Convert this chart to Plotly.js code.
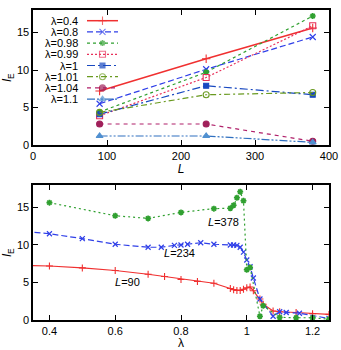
<!DOCTYPE html>
<html>
<head>
<meta charset="utf-8">
<script src="https://cdn.plot.ly/plotly-3.0.1.min.js"></script>
<style>html,body{margin:0;padding:0;background:#fff;}#chart{width:341px;height:350px;}</style>
</head>
<body>
<div id="chart"></div>
<script>
// ---------- Top panel data: l_E vs L ----------
const L_vals = [90, 234, 378];
const lambdaLabels = ['λ=0.4', 'λ=0.8', 'λ=0.98', 'λ=0.99', 'λ=1', 'λ=1.01', 'λ=1.04', 'λ=1.1'];
const lE_lam04  = [7.2, 11.5, 15.6];
const lE_lam08  = [5.5, 10.1, 14.4];
const lE_lam098 = [4.4, 9.7, 17.2];
const lE_lam099 = [3.9, 9.0, 15.9];
const lE_lam1   = [4.1, 7.9, 6.7];
const lE_lam101 = [4.35, 6.7, 7.0];
const lE_lam104 = [2.8, 2.8, 0.5];
const lE_lam11  = [1.2, 1.2, 0.35];

// ---------- Bottom panel data: l_E vs lambda ----------
const lam_L90 = [0.3, 0.4, 0.5, 0.6, 0.7, 0.75, 0.8, 0.85, 0.9, 0.95, 0.96, 0.97, 0.98, 0.99, 1.0, 1.01, 1.02, 1.04, 1.05, 1.08, 1.1, 1.15, 1.2, 1.25];
const lE_L90  = [7.3, 7.2, 6.95, 6.6, 6.1, 5.8, 5.4, 5.15, 4.9, 4.2, 4.05, 3.95, 3.95, 4.1, 4.3, 4.4, 3.9, 2.8, 2.1, 1.2, 1.1, 1.0, 0.85, 0.75];
const lam_L234 = [0.3, 0.4, 0.5, 0.6, 0.7, 0.74, 0.78, 0.8, 0.82, 0.86, 0.9, 0.95, 0.96, 0.97, 0.98, 0.99, 1.0, 1.01, 1.02, 1.04, 1.08, 1.1, 1.12, 1.16, 1.25];
const lE_L234  = [11.9, 11.5, 10.85, 10.1, 9.7, 9.7, 9.95, 10.0, 10.1, 10.3, 10.1, 10.0, 10.0, 9.95, 9.7, 9.05, 8.0, 7.1, 5.6, 2.8, 0.5, 1.1, 1.0, 0.9, 0.2];
const lam_L378 = [0.4, 0.6, 0.7, 0.8, 0.9, 0.95, 0.96, 0.97, 0.98, 0.99, 1.0, 1.01, 1.04, 1.05, 1.1, 1.15, 1.2, 1.25];
const lE_L378  = [15.65, 13.9, 13.55, 14.35, 14.85, 14.9, 15.3, 16.3, 17.1, 15.9, 6.7, 7.0, 0.5, 1.9, 0.35, 0.3, 0.3, 0.1];
const curveLabels = ['<i>L</i>=90', '<i>L</i>=234', '<i>L</i>=378'];
const curveLabelPos = {lam: [0.636, 0.796, 0.928], lE: [5.07, 8.96, 13.0]};

// ---------- styles ----------
const FONT = 'Liberation Sans, Arial, sans-serif';
const topSeries = [
  {y: lE_lam04,  color: '#f03030', dash: 'solid',            sym: 'cross-thin-open', size: 6, mcolor: '#f03030', lw: 1.5},
  {y: lE_lam08,  color: '#2f3fe8', dash: '6px,3px',          sym: 'x-thin-open',     size: 6, mcolor: '#2f3fe8', lw: 1.2},
  {y: lE_lam098, color: '#30a030', dash: '3px,3px',          sym: 'asterisk-open',   size: 5, mcolor: '#30a030', lw: 1.2},
  {y: lE_lam099, color: '#e8305a', dash: '2px,2px',          sym: 'square-open',     size: 6, mcolor: '#e8305a', lw: 1.2},
  {y: lE_lam1,   color: '#1848c0', dash: '8px,3px,2px,3px',  sym: 'square',          size: 5, mcolor: '#1848c0', lw: 1.2},
  {y: lE_lam101, color: '#6a9a20', dash: '6px,3px,2px,3px',  sym: 'circle-open',     size: 6, mcolor: '#6a9a20', lw: 1.2},
  {y: lE_lam104, color: '#b0206a', dash: '4px,4px',          sym: 'circle',          size: 6, mcolor: '#a0205a', lw: 1.2},
  {y: lE_lam11,  color: '#3070c0', dash: '8px,2px,2px,2px,2px,2px', sym: 'triangle-up', size: 6, mcolor: '#5090d0', lw: 1.2}
];

const traces = [];
topSeries.forEach(function (s) {
  const mk = {symbol: s.sym, size: s.size, color: s.mcolor, line: {color: s.mcolor, width: s.sym === 'asterisk-open' ? 1.6 : 1.1}};
  traces.push({x: L_vals, y: s.y, xaxis: 'x', yaxis: 'y', mode: 'lines+markers',
    line: {color: s.color, dash: s.dash, width: s.lw}, marker: mk, showlegend: false, hoverinfo: 'skip'});
});

// custom gnuplot-style key (text right, sample on the right) on an overlay axis in pixel units
const keyTextX = 47, keyX0 = 54, keyX1 = 85, keyY0 = 10.7, keyDy = 11.2;
topSeries.forEach(function (s, i) {
  const yy = keyY0 + keyDy * i;
  traces.push({x: [keyX0, (keyX0 + keyX1) / 2, keyX1], y: [yy, yy, yy], xaxis: 'x3', yaxis: 'y3',
    mode: 'lines+markers', line: {color: s.color, dash: s.dash, width: s.lw},
    marker: {symbol: s.sym, size: [0, s.size, 0], color: s.mcolor, line: {color: s.mcolor, width: s.sym === 'asterisk-open' ? 1.6 : 1.1}},
    showlegend: false, hoverinfo: 'skip'});
});

// bottom panel
traces.push({x: lam_L90, y: lE_L90, xaxis: 'x2', yaxis: 'y2', mode: 'lines+markers',
  line: {color: '#f03030', width: 1.2}, marker: {symbol: 'cross-thin-open', size: 5, line: {color: '#f03030', width: 1.1}},
  showlegend: false, hoverinfo: 'skip'});
traces.push({x: lam_L234, y: lE_L234, xaxis: 'x2', yaxis: 'y2', mode: 'lines+markers',
  line: {color: '#2f3fe8', width: 1.2, dash: '6px,3px'}, marker: {symbol: 'x-thin-open', size: 5, line: {color: '#2f3fe8', width: 1.2}},
  showlegend: false, hoverinfo: 'skip'});
traces.push({x: lam_L378, y: lE_L378, xaxis: 'x2', yaxis: 'y2', mode: 'lines+markers',
  line: {color: '#30a030', width: 1.2, dash: '2px,3px'}, marker: {symbol: 'asterisk-open', size: 5, line: {color: '#30a030', width: 1.6}},
  showlegend: false, hoverinfo: 'skip'});

const annotations = [];
lambdaLabels.forEach(function (t, i) {
  annotations.push({text: t, x: keyTextX, y: keyY0 + keyDy * i, xref: 'x3', yref: 'y3',
    xanchor: 'right', yanchor: 'middle', showarrow: false, font: {family: FONT, size: 11, color: '#000'}});
});
curveLabels.forEach(function (t, i) {
  annotations.push({text: t, x: curveLabelPos.lam[i], y: curveLabelPos.lE[i], xref: 'x2', yref: 'y2',
    xanchor: 'center', yanchor: 'middle', showarrow: false, font: {family: FONT, size: 11, color: '#000'}});
});

function ax(extra) {
  return Object.assign({
    showline: true, linecolor: '#000', linewidth: 1.6, mirror: 'ticks',
    ticks: 'inside', ticklen: 5, tickwidth: 1, tickcolor: '#000',
    showgrid: false, zeroline: false, tickfont: {family: FONT, size: 11, color: '#000'},
    fixedrange: true
  }, extra);
}

const topDomain = [0.5645, 1], botDomain = [0, 0.4355];
const layout = {
  width: 341, height: 350,
  margin: {l: 33, r: 12, t: 10, b: 30},
  paper_bgcolor: '#fff', plot_bgcolor: '#fff',
  showlegend: false,
  font: {family: FONT, size: 11, color: '#000'},
  xaxis: ax({domain: [0, 1], anchor: 'y', range: [0, 400], dtick: 100, tick0: 0,
    title: {text: '<i>L</i>', font: {family: FONT, size: 12}, standoff: 2}}),
  yaxis: ax({domain: topDomain, anchor: 'x', range: [0, 18], dtick: 5, tick0: 0,
    title: {text: '<i>l</i><sub>E</sub>', font: {family: FONT, size: 12}, standoff: 4}}),
  xaxis2: ax({domain: [0, 1], anchor: 'y2', range: [0.35, 1.25], dtick: 0.2, tick0: 0.4,
    title: {text: 'λ', font: {family: FONT, size: 12}, standoff: 2}}),
  yaxis2: ax({domain: botDomain, anchor: 'x2', range: [0, 18], dtick: 5, tick0: 0,
    title: {text: '<i>l</i><sub>E</sub>', font: {family: FONT, size: 12}, standoff: 4}}),
  xaxis3: {domain: [0, 1], anchor: 'y3', overlaying: 'x', range: [0, 296], visible: false, fixedrange: true},
  yaxis3: {domain: topDomain, anchor: 'x3', overlaying: 'y', range: [135, 0], visible: false, fixedrange: true},
  annotations: annotations
};

Plotly.newPlot('chart', traces, layout, {staticPlot: true, displayModeBar: false});
</script>
</body>
</html>
